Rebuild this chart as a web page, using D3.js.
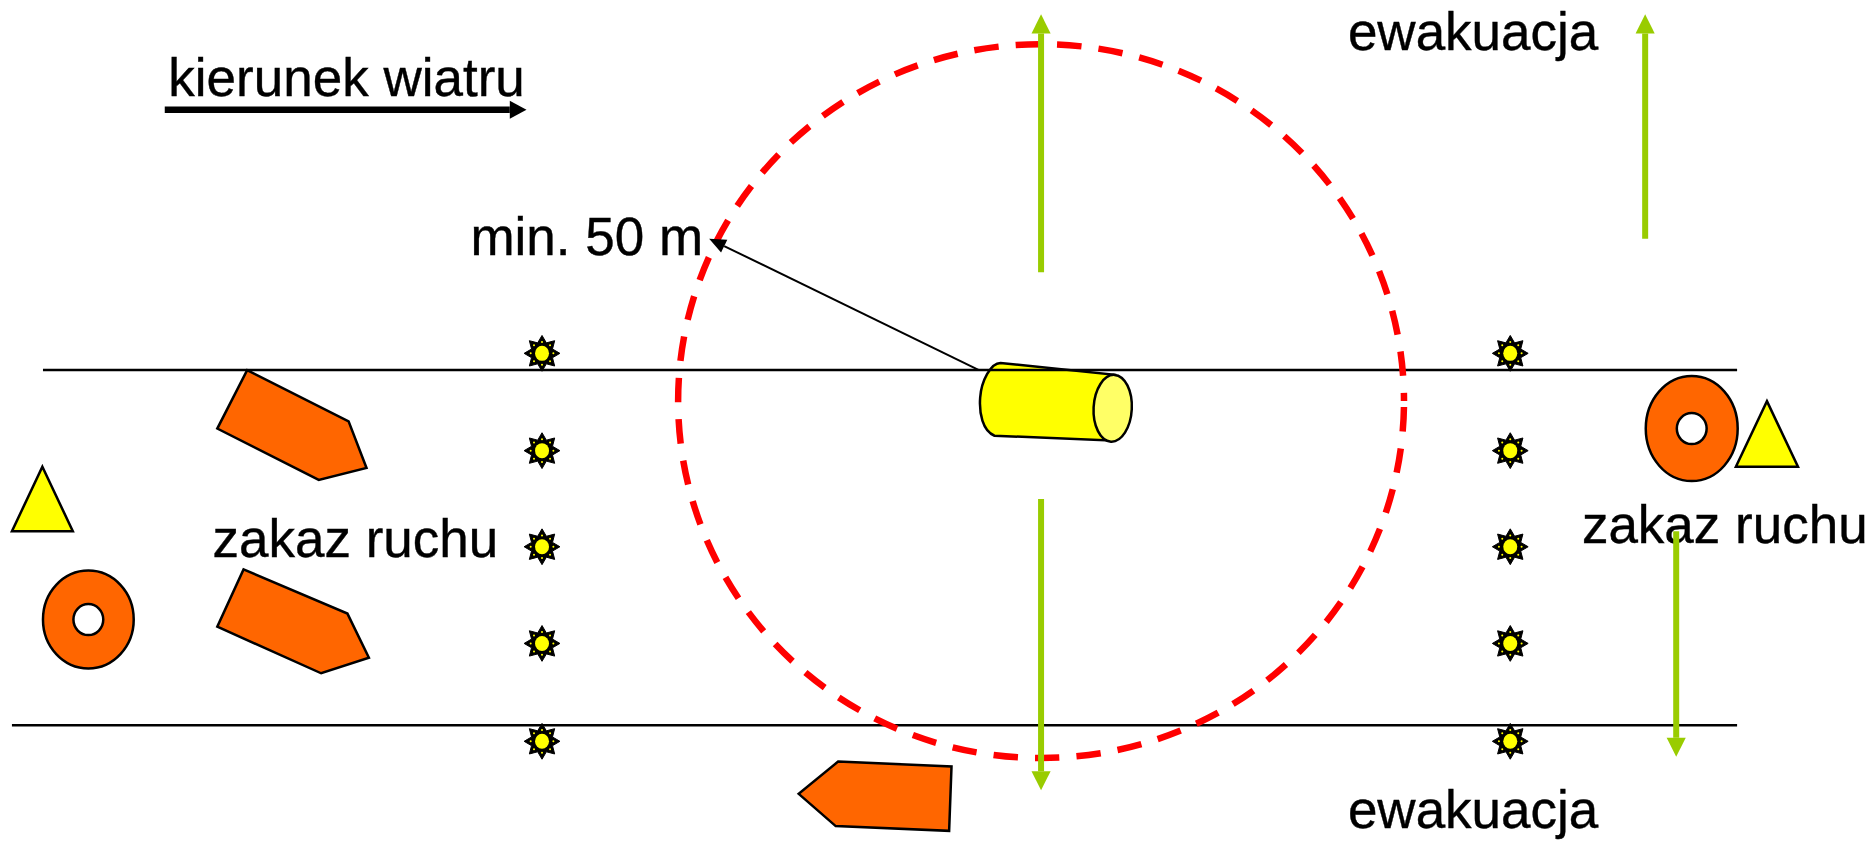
<!DOCTYPE html>
<html>
<head>
<meta charset="utf-8">
<style>
  html, body { margin: 0; padding: 0; background: #fff; }
  svg { display: block; }
  text { font-family: "Liberation Sans", Arial, sans-serif; fill: #000; stroke: #000; stroke-width: 0.4; }
</style>
<script src="https://cdn.jsdelivr.net/npm/d3@7"></script>
</head>
<body>
<div id="scheme"></div>
<script>
// values, in drawing units (picture is 1568 units wide)
var roadLines = [[36, 310, 1455], [10, 607.5, 1455]];
var starColumns = [454, 1265];
var starRows = [296, 377.5, 458, 539, 621];

var boats = [
    [[207, 310], [292, 353], [307, 392], [267, 402], [182, 359]],
    [[204, 477], [291, 514], [309, 551], [269, 564], [182, 525]],
    [[702, 638], [797, 642], [795, 696], [700, 692], [669, 665]]
];
var triangles = [
    [[35.5, 391], [61, 445], [10, 445]],
    [[1480, 336], [1506, 391], [1454, 391]]
];
// cx, cy, rx, ry, hole rx, hole ry
var donuts = [[74, 519, 38, 41, 12.5, 13], [1417, 359, 38.5, 44, 12.5, 13]];

// x, from y, to y
var evacArrows = [[872, 228, 12], [1378, 200, 12], [872, 418, 662], [1404, 445, 634]];

var zoneCircle = [872, 336, 304, 299];
var windArrow = [138, 441, 92];
var radiusArrow = [820, 310, 594, 200];

var cylinderBody = [[838, 304], [934, 314], [930, 369], [833, 365]];
var cylinderCap = [932, 342, 16, 28];

var labels = ["kierunek wiatru", "ewakuacja", "min. 50 m", "zakaz ruchu", "zakaz ruchu", "ewakuacja"];
var labelX = [141, 1129, 394, 178, 1325, 1129];
var labelY = [80.5, 42, 214, 467, 455, 694];

var width = 1872;
var height = 841;

var x = d3.scaleLinear().domain([0, 1568]).range([0, width]);
var y = d3.scaleLinear().domain([0, 704.5]).range([0, height]);

var green = "#99cc00";
var orange = "#ff6600";
var yellow = "#ffff00";

var svg = d3.select("#scheme").append("svg")
    .attr("width", width)
    .attr("height", height);

var line = d3.line().x(d => x(d[0])).y(d => y(d[1]));
function closed(pts) { return line(pts) + "Z"; }

// orange vehicles
svg.selectAll(".boat")
    .data(boats)
    .enter()
    .append("path")
    .attr("class", "boat")
    .attr("d", closed)
    .attr("fill", orange)
    .attr("stroke", "#000")
    .attr("stroke-width", 2.5);

// warning triangles
svg.selectAll(".triangle")
    .data(triangles)
    .enter()
    .append("path")
    .attr("class", "triangle")
    .attr("d", closed)
    .attr("fill", yellow)
    .attr("stroke", "#000")
    .attr("stroke-width", 2.5);

// donuts
svg.selectAll(".donut")
    .data(donuts)
    .enter()
    .append("ellipse")
    .attr("class", "donut")
    .attr("cx", d => x(d[0]))
    .attr("cy", d => y(d[1]))
    .attr("rx", d => x(d[2]))
    .attr("ry", d => y(d[3]))
    .attr("fill", orange)
    .attr("stroke", "#000")
    .attr("stroke-width", 2.5);

svg.selectAll(".hole")
    .data(donuts)
    .enter()
    .append("ellipse")
    .attr("class", "hole")
    .attr("cx", d => x(d[0]))
    .attr("cy", d => y(d[1]))
    .attr("rx", d => x(d[4]))
    .attr("ry", d => y(d[5]))
    .attr("fill", "#fff")
    .attr("stroke", "#000")
    .attr("stroke-width", 2.5);

// tank lying on the road edge
var b = cylinderBody;
var bodyPath = d3.path();
bodyPath.moveTo(x(b[0][0]), y(b[0][1]));
bodyPath.lineTo(x(b[1][0]), y(b[1][1]));
bodyPath.lineTo(x(b[2][0]), y(b[2][1]));
bodyPath.lineTo(x(b[3][0]), y(b[3][1]));
bodyPath.bezierCurveTo(x(823), y(361), x(820), y(346), x(821), y(333));
bodyPath.bezierCurveTo(x(822), y(319), x(830), y(304), x(b[0][0]), y(b[0][1]));
bodyPath.closePath();

svg.append("path")
    .attr("d", bodyPath.toString())
    .attr("fill", yellow)
    .attr("stroke", "#000")
    .attr("stroke-width", 2.5);

svg.append("ellipse")
    .attr("transform", `translate(${x(cylinderCap[0])}, ${y(cylinderCap[1])}) rotate(3)`)
    .attr("rx", x(cylinderCap[2]))
    .attr("ry", y(cylinderCap[3]))
    .attr("fill", "#ffff66")
    .attr("stroke", "#000")
    .attr("stroke-width", 2.5);

// road edges
svg.selectAll(".road")
    .data(roadLines)
    .enter()
    .append("line")
    .attr("class", "road")
    .attr("x1", d => x(d[0]))
    .attr("x2", d => x(d[2]))
    .attr("y1", d => y(d[1]))
    .attr("y2", d => y(d[1]))
    .attr("stroke", "#000")
    .attr("stroke-width", 2.5);

// flares, mostly black 8 point star with a yellow centre and small specks in the spikes
var starPoints = d3.range(16).map(function (i) {
    var r = i % 2 == 0 ? 15 : 9.5;
    var a = i * Math.PI / 8 - Math.PI / 2;
    return [r * Math.cos(a), r * Math.sin(a)];
});
var speckPoints = d3.range(8).map(function (i) {
    var a = i * Math.PI / 4 - Math.PI / 2;
    return [9.5 * Math.cos(a), 9.5 * Math.sin(a)];
});
var stars = d3.cross(starColumns, starRows);

var starGroup = svg.selectAll(".star")
    .data(stars)
    .enter()
    .append("g")
    .attr("class", "star")
    .attr("transform", d => `translate(${x(d[0])}, ${y(d[1])})`);

starGroup.append("path")
    .attr("d", closed(starPoints))
    .attr("fill", "#000")
    .attr("stroke", "#000")
    .attr("stroke-width", 1);

starGroup.selectAll(".speck")
    .data(speckPoints)
    .enter()
    .append("circle")
    .attr("class", "speck")
    .attr("cx", d => x(d[0]))
    .attr("cy", d => y(d[1]))
    .attr("r", 1)
    .attr("fill", yellow);

starGroup.append("ellipse")
    .attr("rx", 7)
    .attr("ry", 7.5)
    .attr("fill", yellow);

// red dashed zone
svg.append("ellipse")
    .attr("cx", x(zoneCircle[0]))
    .attr("cy", y(zoneCircle[1]))
    .attr("rx", x(zoneCircle[2]))
    .attr("ry", y(zoneCircle[3]))
    .attr("fill", "none")
    .attr("stroke", "#ff0000")
    .attr("stroke-width", 6.5)
    .attr("stroke-dasharray", "24.5 17.1")
    .attr("stroke-dashoffset", -6);

// evacuation arrows
var headLen = 16, headHalf = 8;
svg.selectAll(".evac")
    .data(evacArrows)
    .enter()
    .append("line")
    .attr("class", "evac")
    .attr("x1", d => x(d[0]))
    .attr("x2", d => x(d[0]))
    .attr("y1", d => y(d[1]))
    .attr("y2", d => y(d[2] + (d[2] < d[1] ? headLen : -headLen)))
    .attr("stroke", green)
    .attr("stroke-width", 6);

svg.selectAll(".evacHead")
    .data(evacArrows)
    .enter()
    .append("path")
    .attr("class", "evacHead")
    .attr("d", function (d) {
        var back = d[2] + (d[2] < d[1] ? headLen : -headLen);
        return closed([[d[0], d[2]], [d[0] + headHalf, back], [d[0] - headHalf, back]]);
    })
    .attr("fill", green);

// wind arrow
svg.append("line")
    .attr("x1", x(windArrow[0]))
    .attr("x2", x(windArrow[1] - 14))
    .attr("y1", y(windArrow[2]))
    .attr("y2", y(windArrow[2]))
    .attr("stroke", "#000")
    .attr("stroke-width", 6.5);

svg.append("path")
    .attr("d", closed([[windArrow[1], windArrow[2]], [windArrow[1] - 14, windArrow[2] - 7.5], [windArrow[1] - 14, windArrow[2] + 7.5]]))
    .attr("fill", "#000");

// radius arrow
var r = radiusArrow;
var ang = Math.atan2(r[3] - r[1], r[2] - r[0]);
var rBack = [r[2] - 14 * Math.cos(ang), r[3] - 14 * Math.sin(ang)];
svg.append("line")
    .attr("x1", x(r[0]))
    .attr("y1", y(r[1]))
    .attr("x2", x(rBack[0]))
    .attr("y2", y(rBack[1]))
    .attr("stroke", "#000")
    .attr("stroke-width", 2);

svg.append("path")
    .attr("d", closed([
        [r[2], r[3]],
        [rBack[0] - 6 * Math.sin(ang), rBack[1] + 6 * Math.cos(ang)],
        [rBack[0] + 6 * Math.sin(ang), rBack[1] - 6 * Math.cos(ang)]
    ]))
    .attr("fill", "#000");

// labels go under the green arrow on the right, so move that arrow up afterwards
svg.selectAll(".label")
    .data(labels)
    .enter()
    .append("text")
    .attr("class", "label")
    .attr("x", (d, i) => x(labelX[i]))
    .attr("y", (d, i) => y(labelY[i]))
    .attr("font-size", 53)
    .text(d => d);

svg.selectAll(".evac, .evacHead").raise();
</script>
</body>
</html>
